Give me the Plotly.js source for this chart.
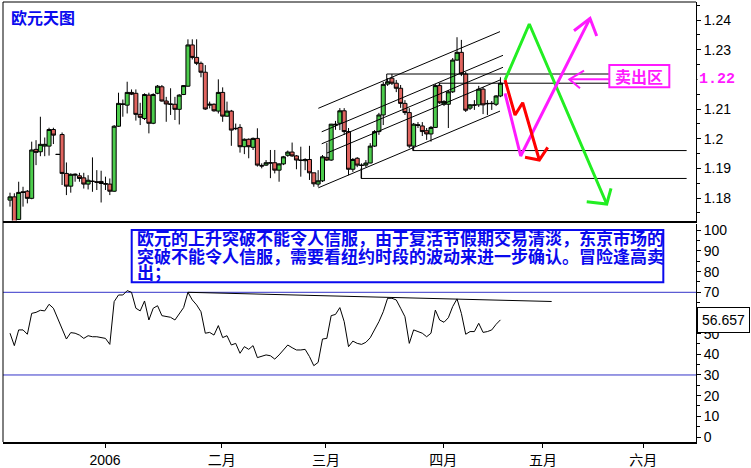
<!DOCTYPE html>
<html><head><meta charset="utf-8">
<script src="https://cdn.plot.ly/plotly-3.0.1.min.js"></script>
<style>html,body{margin:0;padding:0;background:#fff;} #chart{width:751px;height:468px;}</style>
</head><body><div id="chart"></div>
<script>
// ---- price bars (daily, oldest first) ----
const openP = [1.1793,1.1804,1.1728,1.1821,1.1823,1.1799,1.1964,1.1956,1.1975,1.1975,
1.2031,1.1947,1.2014,1.1883,1.1840,1.1877,1.1875,1.1868,1.1847,1.1857,
1.1855,1.1856,1.1849,1.1847,1.1823,1.2042,1.2117,1.2113,1.2156,1.2153,
1.2082,1.2068,1.2147,1.2052,1.2153,1.2175,1.2127,1.2117,1.2116,1.2099,
1.2149,1.2177,1.2316,1.2274,1.2254,1.2224,1.2113,1.2116,1.2093,1.2156,
1.2076,1.2093,1.2035,1.2038,1.1973,1.1998,1.1971,1.2001,1.1910,1.1911,
1.1919,1.1919,1.1894,1.1915,1.1944,1.1955,1.1942,1.1928,1.1926,1.1930,
1.1885,1.1847,1.1858,1.1937,1.1928,1.2049,1.2052,1.2094,1.2024,1.1897,
1.1934,1.1911,1.1911,1.1918,1.1975,1.2024,1.2080,1.2184,1.2204,1.2187,
1.2170,1.2119,1.2088,1.1975,1.2047,1.2043,1.2027,1.2016,1.2038,1.2179,
1.2116,1.2116,1.2158,1.2265,1.2291,1.2218,1.2103,1.2114,1.2114,1.2167,
1.2119,1.2118,1.2116,1.2144];
const highP = [1.1818,1.1816,1.1855,1.1838,1.1827,1.1990,1.1995,1.2074,1.2004,1.2037,
1.2037,1.1947,1.2021,1.1920,1.1883,1.1883,1.1885,1.1885,1.1877,1.1937,
1.1894,1.1892,1.1872,1.1866,1.2046,1.2155,1.2132,1.2192,1.2166,1.2166,
1.2121,1.2153,1.2155,1.2153,1.2181,1.2181,1.2141,1.2170,1.2141,1.2150,
1.2181,1.2335,1.2335,1.2335,1.2260,1.2248,1.2125,1.2119,1.2200,1.2173,
1.2125,1.2097,1.2051,1.2049,1.2001,1.2001,1.2004,1.2035,1.1917,1.1928,
1.1962,1.1962,1.1917,1.1942,1.1960,1.1987,1.1945,1.1973,1.1934,1.1976,
1.1885,1.1894,1.1945,1.1986,1.2050,1.2060,1.2103,1.2103,1.2036,1.1935,
1.1938,1.1917,1.1928,1.1985,1.2029,1.2087,1.2191,1.2204,1.2218,1.2198,
1.2181,1.2130,1.2103,1.2053,1.2056,1.2056,1.2036,1.2043,1.2184,1.2187,
1.2130,1.2164,1.2272,1.2342,1.2333,1.2225,1.2117,1.2130,1.2178,1.2174,
1.2130,1.2127,1.2147,1.2207];
const lowP = [1.1771,1.1705,1.1726,1.1771,1.1782,1.1796,1.1911,1.1941,1.1941,1.1943,
1.1982,1.1947,1.1844,1.1810,1.1818,1.1855,1.1855,1.1832,1.1829,1.1821,
1.1827,1.1785,1.1827,1.1810,1.1821,1.2040,1.2074,1.2085,1.2147,1.2061,
1.2046,1.2063,1.2018,1.2049,1.2150,1.2125,1.2057,1.2080,1.2063,1.2048,
1.2147,1.2175,1.2267,1.2248,1.2207,1.2097,1.2102,1.2091,1.2085,1.2057,
1.2074,1.1976,1.2029,1.1953,1.1948,1.1934,1.1962,1.1906,1.1900,1.1908,
1.1867,1.1883,1.1855,1.1911,1.1939,1.1939,1.1897,1.1872,1.1894,1.1861,
1.1838,1.1838,1.1854,1.1925,1.1925,1.2030,1.2029,1.2013,1.1877,1.1888,
1.1904,1.1866,1.1904,1.1917,1.1972,1.2013,1.2046,1.2178,1.2181,1.2157,
1.2104,1.2080,1.1968,1.1960,1.2036,1.2009,1.1996,1.1990,1.2036,1.2117,
1.2110,1.2036,1.2154,1.2262,1.2211,1.2090,1.2097,1.2097,1.2107,1.2083,
1.2080,1.2097,1.2110,1.2140];
const closeP = [1.1804,1.1712,1.1819,1.1819,1.1799,1.1962,1.1954,1.1981,1.1981,1.2031,
1.2012,1.1947,1.1883,1.1840,1.1880,1.1880,1.1866,1.1847,1.1860,1.1856,
1.1853,1.1849,1.1847,1.1823,1.2042,1.2119,1.2116,1.2156,1.2150,1.2082,
1.2072,1.2149,1.2052,1.2149,1.2177,1.2127,1.2117,1.2116,1.2099,1.2147,
1.2179,1.2316,1.2274,1.2254,1.2224,1.2100,1.2116,1.2094,1.2156,1.2076,
1.2093,1.2029,1.2034,1.1973,1.1998,1.1973,1.2001,1.1911,1.1908,1.1919,
1.1918,1.1894,1.1915,1.1939,1.1955,1.1942,1.1928,1.1927,1.1930,1.1885,
1.1848,1.1858,1.1939,1.1928,1.2049,1.2047,1.2094,1.2024,1.1897,1.1930,
1.1911,1.1910,1.1918,1.1975,1.2024,1.2080,1.2183,1.2192,1.2187,1.2170,
1.2119,1.2088,1.1975,1.2049,1.2045,1.2024,1.2016,1.2038,1.2179,1.2121,
1.2125,1.2158,1.2265,1.2291,1.2218,1.2096,1.2114,1.2113,1.2167,1.2114,
1.2118,1.2119,1.2144,1.2187];

// ---- RSI ----
const rsi = [50.2,44.2,51.8,51.8,49.7,59.8,60.3,61.3,61.0,64.2,
62.3,57.4,51.8,47.4,50.5,50.2,49.3,47.7,49.0,48.5,
48.5,48.2,47.7,44.8,65.5,68.7,68.7,70.8,70.0,62.3,
61.0,65.8,56.6,62.3,63.5,58.7,58.2,57.9,56.6,59.8,
62.6,70.0,66.3,63.9,60.6,50.2,50.6,49.3,53.9,48.1,
49.0,44.5,45.3,40.5,43.7,42.4,44.2,38.4,38.9,39.7,
39.3,37.7,39.7,42.1,44.5,43.2,42.1,42.1,42.4,38.9,
34.5,36.1,47.4,47.7,58.7,59.3,62.6,55.8,43.7,46.4,
45.3,44.8,45.8,48.0,51.8,55.8,60.6,67.1,67.1,66.3,
62.3,58.2,45.3,51.8,51.0,50.2,48.5,50.2,61.4,56.6,
55.5,57.7,63.1,66.8,59.8,49.7,51.0,51.0,55.0,50.6,
51.0,51.8,54.5,56.657];
const rsiLevels = [70, 30];
const rsiTrendX = [41.0, 124.8];
const rsiTrendY = [70.0, 65.55];

// ---- axes / ticks ----
const xRange = [-1.613, 158.06];
const monthTickIdx = [21.9, 48.8, 72.8, 99.8, 122.8, 145.9];
const monthLabels = ['2006', '二月', '三月', '四月', '五月', '六月'];
const priceTicks = [1.18, 1.19, 1.20, 1.21, 1.22, 1.23, 1.24];
const priceTickText = ['1.18', '1.19', '1.2', '1.21', '', '1.23', '1.24'];   // 1.22 is shown by the magenta marker
const rsiTicks = [0, 10, 20, 30, 40, 50, 60, 70, 80, 90, 100];
const rsiTickText = ['0', '10', '20', '30', '40', '50', '', '70', '80', '90', '100']; // 60 hidden under the value box

// ---- drawn channel (5 parallel lines) ----
const channelX0 = [71.04, 71.82, 71.82, 73.04, 71.04];
const channelY0 = [1.21024, 1.20232, 1.19828, 1.19518, 1.18345];
const channelX1 = [112.90, 113.59, 113.59, 112.90, 112.90];
const channelY1 = [1.23609, 1.22810, 1.22406, 1.21978, 1.20930];

// ---- horizontal support / resistance levels ----
const levelStartX = [86.8, 98.9, 92.8, 80.9];
const levelStubY = [1.2192, 1.2178, 1.1973, 1.1900];
const levelY = [1.2218, 1.2187, 1.1960, 1.1866];
const levelEndX = [138.2, 138.2, 155.9, 155.9];

// ---- scenario arrows ----
const greenPathX = [114.06, 119.65, 137.49, null, 132.88, 137.49, 138.48];
const greenPathY = [1.21978, 1.23865, 1.17799, null, 1.17877, 1.17799, 1.18328];
const redPathX = [114.06, 116.36, 118.13, 121.96, null, 118.66, 121.96, 123.89];
const redPathY = [1.21978, 1.20798, 1.21213, 1.19282, null, 1.19373, 1.19282, 1.19710];
const magentaPathX = [114.06, 117.67, 133.64, null, 129.95, 133.64, 135.18];
const magentaPathY = [1.21530, 1.19417, 1.24057, null, 1.23639, 1.24057, 1.23461];
const pointerX = [138.25, 128.87, null, 132.26, 128.87, 131.34];
const pointerY = [1.22002, 1.22002, null, 1.22291, 1.22002, 1.21698];
const sellZoneX = [138.09, 151.91];
const sellZoneY = [1.21732, 1.22484];

// ---- texts ----
const chartTitle = '欧元天图';
const sellZoneText = '卖出区';
const priceMark = '1.22';
const commentLines = [
  '欧元的上升突破不能令人信服，由于复活节假期交易清淡，东京市场的',
  '突破不能令人信服，需要看纽约时段的波动来进一步确认。冒险逢高卖',
  '出；'
];
const commentBoxX = [28.04, 150.53];
const commentBoxY = [74.84, 100.15];
const commentTextX = 28.8;
const commentTextY = [96.4, 87.8, 79.9];

const barIdx = openP.map((_, i) => i);

const chX = [], chY = [];
channelX0.forEach((x0, i) => { chX.push(x0, channelX1[i], null); chY.push(channelY0[i], channelY1[i], null); });
const lvX = [], lvY = [];
levelStartX.forEach((x0, i) => { lvX.push(x0, x0, levelEndX[i], null); lvY.push(levelStubY[i], levelY[i], levelY[i], null); });

const BLUE = '#0a0aee';
const MAG = '#ff1aff';
const CJK = 'Noto Sans CJK SC, sans-serif';
const SANS = 'Liberation Sans, Arial, sans-serif';

const traces = [
  {type: 'scatter', mode: 'lines', x: chX, y: chY, xaxis: 'x', yaxis: 'y', line: {color: '#000', width: 1}, hoverinfo: 'skip'},
  {type: 'scatter', mode: 'lines', x: lvX, y: lvY, xaxis: 'x', yaxis: 'y', line: {color: '#000', width: 1}, hoverinfo: 'skip'},
  {type: 'candlestick', x: barIdx, open: openP, high: highP, low: lowP, close: closeP, xaxis: 'x', yaxis: 'y',
   increasing: {line: {color: '#000', width: 1}, fillcolor: '#4ccc4c'},
   decreasing: {line: {color: '#000', width: 1}, fillcolor: '#e0645f'},
   whiskerwidth: 0, hoverinfo: 'skip'},
  {type: 'scatter', mode: 'lines', x: greenPathX, y: greenPathY, xaxis: 'x', yaxis: 'y', line: {color: '#22ee22', width: 3}, hoverinfo: 'skip'},
  {type: 'scatter', mode: 'lines', x: magentaPathX, y: magentaPathY, xaxis: 'x', yaxis: 'y', line: {color: MAG, width: 3}, hoverinfo: 'skip'},
  {type: 'scatter', mode: 'lines', x: redPathX, y: redPathY, xaxis: 'x', yaxis: 'y', line: {color: '#ff0000', width: 3}, hoverinfo: 'skip'},
  {type: 'scatter', mode: 'lines', x: pointerX, y: pointerY, xaxis: 'x', yaxis: 'y', line: {color: MAG, width: 2}, hoverinfo: 'skip'},
  {type: 'scatter', mode: 'lines', x: barIdx, y: rsi, xaxis: 'x2', yaxis: 'y2', line: {color: '#000', width: 1}, hoverinfo: 'skip'},
  {type: 'scatter', mode: 'lines', x: rsiTrendX, y: rsiTrendY, xaxis: 'x2', yaxis: 'y2', line: {color: '#000', width: 1}, hoverinfo: 'skip'}
];

const shapes = [
  {type: 'line', xref: 'paper', yref: 'paper', x0: 0, x1: 0, y0: 0, y1: 1, line: {color: '#000', width: 1}},
  {type: 'line', xref: 'paper', yref: 'paper', x0: 0, x1: 1, y0: 1, y1: 1, line: {color: '#000', width: 1}},
  {type: 'rect', xref: 'x', yref: 'y', x0: sellZoneX[0], x1: sellZoneX[1], y0: sellZoneY[0], y1: sellZoneY[1], line: {color: MAG, width: 2}, fillcolor: 'rgba(0,0,0,0)'},
  {type: 'rect', xref: 'x2', yref: 'y2', x0: commentBoxX[0], x1: commentBoxX[1], y0: commentBoxY[0], y1: commentBoxY[1], line: {color: BLUE, width: 2}, fillcolor: 'rgba(0,0,0,0)'}
];
rsiLevels.forEach(v => shapes.push({type: 'line', xref: 'paper', yref: 'y2', x0: 0, x1: 1, y0: v, y1: v, line: {color: '#3434c8', width: 1}, layer: 'below'}));

const annotations = [
  {xref: 'paper', yref: 'paper', x: 0.0091, y: 0.9648, xanchor: 'left', yanchor: 'middle', showarrow: false,
   text: '<b>' + chartTitle + '</b>', font: {family: CJK, size: 16, color: BLUE}},
  {xref: 'x', yref: 'y', x: (sellZoneX[0] + sellZoneX[1]) / 2, y: (sellZoneY[0] + sellZoneY[1]) / 2, showarrow: false,
   text: '<b>' + sellZoneText + '</b>', font: {family: CJK, size: 16, color: MAG}},
  {xref: 'paper', yref: 'y', x: 1, y: 1.22, xanchor: 'left', yanchor: 'middle', xshift: 1, showarrow: false,
   text: '<b>' + priceMark + '</b>', bgcolor: '#fff', font: {family: 'Liberation Mono, monospace', size: 15, color: MAG}},
  {xref: 'paper', yref: 'y2', x: 1, y: rsi[rsi.length - 1], xanchor: 'left', yanchor: 'middle', xshift: 1, showarrow: false,
   text: rsi[rsi.length - 1].toFixed(3), bgcolor: '#fff', bordercolor: '#000', borderwidth: 1, borderpad: 4,
   font: {family: SANS, size: 14, color: '#000'}}
];
commentLines.forEach((t, i) => annotations.push({xref: 'x2', yref: 'y2', x: commentTextX, y: commentTextY[i], xanchor: 'left', yanchor: 'middle',
  showarrow: false, text: '<b>' + t + '</b>', font: {family: CJK, size: 17, color: BLUE}}));

const layout = {
  width: 751, height: 468, margin: {l: 3, r: 55, t: 2, b: 26},
  paper_bgcolor: '#fff', plot_bgcolor: '#fff', showlegend: false, hovermode: false,
  boxgap: 0.08, boxgroupgap: 0,
  xaxis: {domain: [0, 1], range: xRange, anchor: 'y', showticklabels: false, ticks: '', showgrid: false, zeroline: false,
          showline: true, linecolor: '#000', linewidth: 2, rangeslider: {visible: false}, fixedrange: true},
  yaxis: {domain: [0.5034, 1], range: [1.17243, 1.24607], side: 'right', anchor: 'x', tickmode: 'array',
          tickvals: priceTicks, ticktext: priceTickText, ticks: 'outside', ticklen: 4, tickcolor: '#000',
          minor: {dtick: 0.005, tick0: 1.18, ticks: 'outside', ticklen: 3, tickcolor: '#000'},
          showline: true, linecolor: '#000', linewidth: 1, showgrid: false, zeroline: false,
          tickfont: {family: SANS, size: 14, color: '#000'}},
  xaxis2: {domain: [0, 1], range: xRange, anchor: 'y2', tickmode: 'array', tickvals: monthTickIdx, ticktext: monthLabels,
           ticks: 'outside', ticklen: 4, tickcolor: '#000', showline: true, linecolor: '#000', linewidth: 2,
           showgrid: false, zeroline: false, tickfont: {family: 'Liberation Sans, Noto Sans CJK SC, sans-serif', size: 14, color: '#000'}},
  yaxis2: {domain: [0, 0.4955], range: [-2.42, 103.05], side: 'right', anchor: 'x2', tickmode: 'array', tickvals: rsiTicks,
           ticktext: rsiTickText,
           ticks: 'outside', ticklen: 4, tickcolor: '#000', minor: {dtick: 5, ticks: 'outside', ticklen: 3, tickcolor: '#000'},
           showline: true, linecolor: '#000', linewidth: 1, showgrid: false, zeroline: false,
           tickfont: {family: SANS, size: 14, color: '#000'}},
  shapes: shapes,
  annotations: annotations
};

Plotly.newPlot('chart', traces, layout, {staticPlot: true, displayModeBar: false});
</script></body></html>
